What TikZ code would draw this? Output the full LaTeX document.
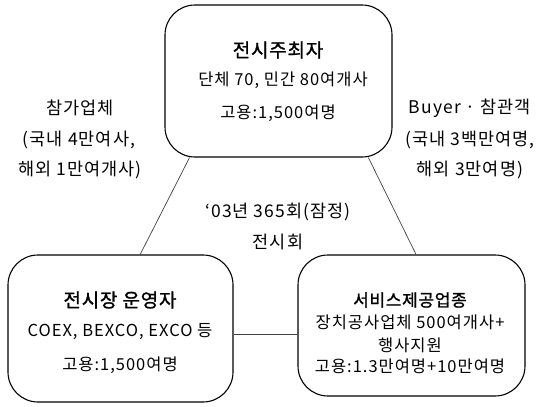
\documentclass[tikz,border=0pt]{standalone}
\usepackage{fontspec}
\setmainfont{Noto Sans CJK KR}
\newfontfamily\bodyfont[LetterSpace=6]{Noto Sans CJK KR}
\newfontfamily\titlefont[LetterSpace=4,FakeBold=1.2]{Noto Sans CJK KR}
\usetikzlibrary{calc}
\tikzset{
  box/.style={draw=black, line width=1.1pt, rounded corners=30pt, inner sep=0pt},
  ttl/.style={font=\titlefont\fontsize{19}{21}\selectfont, inner sep=0pt},
  txt/.style={font=\bodyfont\fontsize{16.5}{18}\selectfont, inner sep=0pt},
  lbl/.style={font=\bodyfont\fontsize{17.5}{19}\selectfont, inner sep=0pt},
  conn/.style={draw=black!75, line width=0.7pt}
}
\begin{document}
\begin{tikzpicture}[x=1pt,y=1pt]
\useasboundingbox (0,0) rectangle (542,-407);
% boxes
\node[box, minimum width=227pt, minimum height=152pt] (top) at (278.5,-81) {};
\node[box, minimum width=225pt, minimum height=147pt] (bl) at (120.5,-328.5) {};
\node[box, minimum width=227pt, minimum height=141pt] (br) at (411.5,-325.5) {};
% texts top
\node[ttl] (t1) at (278,-50) {전시주최자};
\node[txt] (t2) at (283,-80) {단체 70, 민간 80여개사};
\node[txt] (t3) at (278,-113) {고용:1,500여명};
% bottom left
\node[ttl] (l1) at (120,-300) {전시장 운영자};
\node[txt] (l2) at (120,-332) {COEX, BEXCO, EXCO 등};
\node[txt] (l3) at (120,-365) {고용:1,500여명};
% bottom right
\node[ttl, font=\titlefont\fontsize{17}{19}\selectfont] (r1) at (410,-300) {서비스제공업종};
\node[txt] (r2) at (410,-322) {장치공사업체 500여개사+};
\node[txt] (r3) at (410,-345) {행사지원};
\node[txt] (r4) at (410,-366) {고용:1.3만여명+10만여명};
% side labels
\node[lbl] (a1) at (80,-108) {참가업체};
\node[lbl] (a2) at (79,-140) {(국내 4만여사,};
\node[lbl] (a3) at (80,-170) {해외 1만여개사)};
\node[lbl] (b1) at (470,-108) {Buyer · 참관객};
\node[lbl] (b2) at (470,-140) {(국내 3백만여명,};
\node[lbl] (b3) at (470,-170) {해외 3만여명)};
% center
\node[lbl] (c1) at (278,-212) {‘03년 365회(잠정)};
\node[lbl] (c2) at (278,-242) {전시회};
% connectors
\coordinate (tl) at ($(top.south west)!0.11!(top.south east)$);
\coordinate (tr) at ($(top.south west)!0.894!(top.south east)$);
\coordinate (blt) at ($(bl.north west)!0.587!(bl.north east)$);
\coordinate (brt) at ($(br.north west)!0.52!(br.north east)$);
\draw[conn] (tl) -- (blt);
\draw[conn] (tr) -- (brt);
\draw[conn] (bl.east |- 0,-334) -- (br.west |- 0,-334);
\end{tikzpicture}
\end{document}
